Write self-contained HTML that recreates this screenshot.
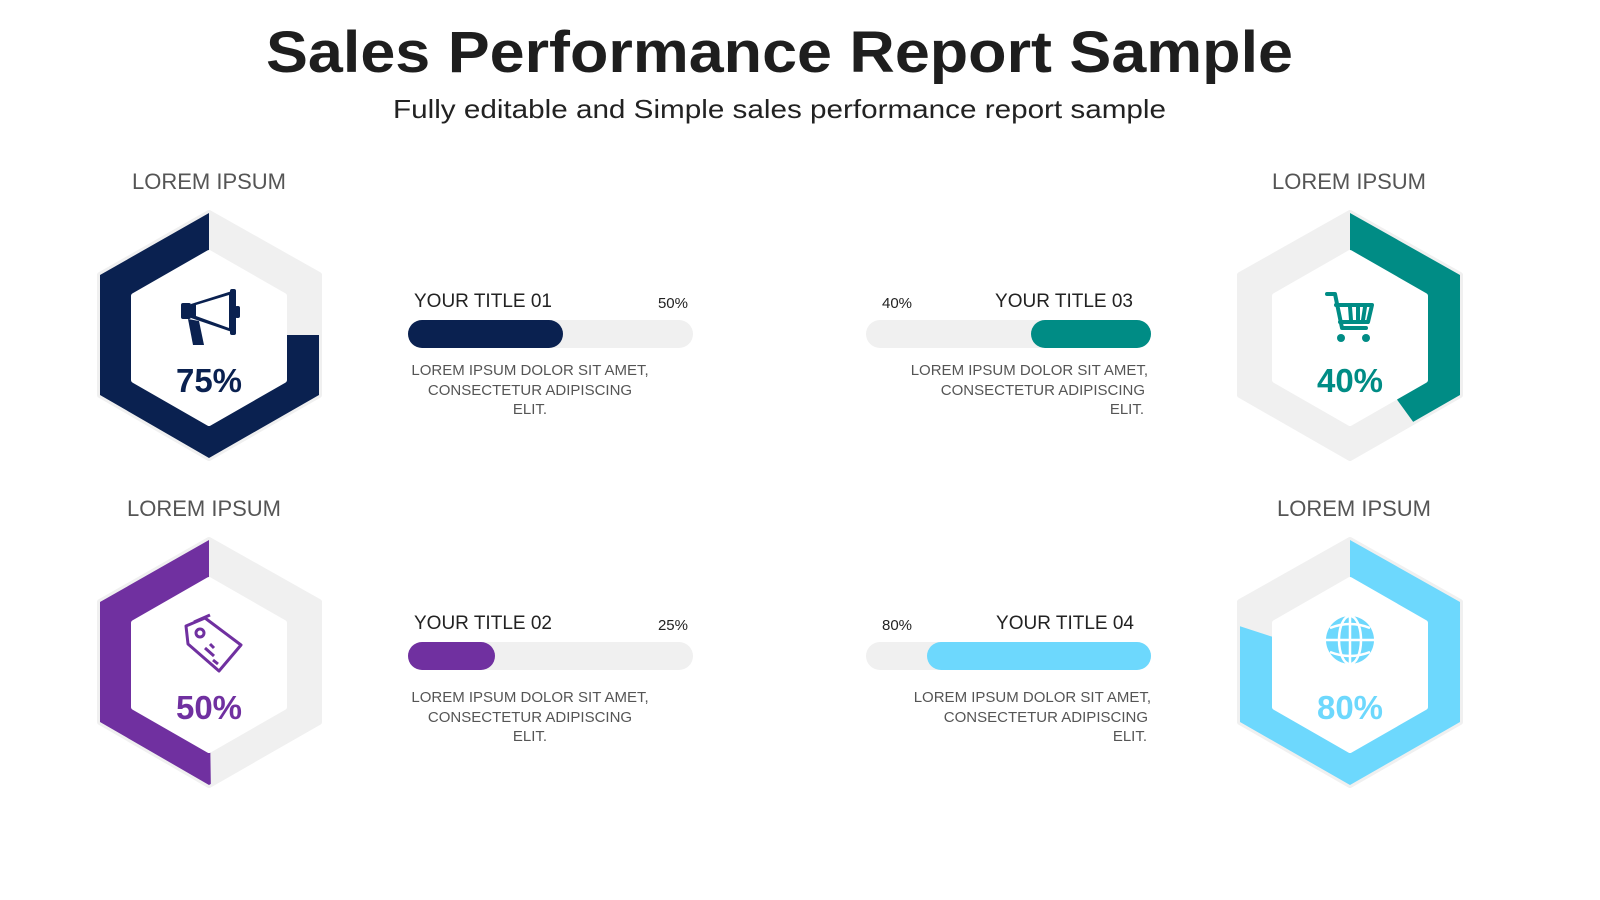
<!DOCTYPE html>
<html><head><meta charset="utf-8"><style>
html,body{margin:0;padding:0;background:#fff;width:1600px;height:900px;overflow:hidden;}
svg{display:block;}
svg text{font-family:"Liberation Sans",sans-serif;}
</style></head><body>
<svg width="1600" height="900" xmlns="http://www.w3.org/2000/svg">
<defs>
<clipPath id="c1"><polygon points="209,213 319,275 319,395 209,458 100,395 100,275"/></clipPath>
<clipPath id="c2"><polygon points="1350,213 1460,275 1460,395 1350,458 1240,395 1240,275"/></clipPath>
<clipPath id="c3"><polygon points="209,540 319,602 319,722 209,785 100,722 100,602"/></clipPath>
<clipPath id="c4"><polygon points="1350,540 1460,602 1460,722 1350,785 1240,722 1240,602"/></clipPath>
</defs>
<text x="266" y="72" textLength="1027" lengthAdjust="spacingAndGlyphs" font-size="58" font-weight="bold" fill="#1e1e1e">Sales Performance Report Sample</text>
<text x="393" y="118" textLength="773" lengthAdjust="spacingAndGlyphs" font-size="26" fill="#222">Fully editable and Simple sales performance report sample</text>

<g font-size="22" fill="#555" text-anchor="middle">
<text x="209" y="189">LOREM IPSUM</text>
<text x="1349" y="189">LOREM IPSUM</text>
<text x="204" y="516">LOREM IPSUM</text>
<text x="1354" y="516">LOREM IPSUM</text>
</g>

<g stroke-linejoin="round">
<polygon points="209,213 319,275 319,395 209,458 100,395 100,275" fill="#f0f0f0" stroke="#f0f0f0" stroke-width="6"/>
<path clip-path="url(#c1)" d="M209 335 L409 335 A200 200 0 1 1 209 135 Z" fill="#0a2150"/>
<polygon points="209,253 284,296 284,380 209,423 134,380 134,296" fill="#fff" stroke="#fff" stroke-width="6"/>

<polygon points="1350,213 1460,275 1460,395 1350,458 1240,395 1240,275" fill="#f0f0f0" stroke="#f0f0f0" stroke-width="6"/>
<path clip-path="url(#c2)" d="M1350 335 L1350 135 A200 200 0 0 1 1467.6 496.8 Z" fill="#008c85"/>
<polygon points="1350,253 1425,296 1425,380 1350,423 1275,380 1275,296" fill="#fff" stroke="#fff" stroke-width="6"/>

<polygon points="209,540 319,602 319,722 209,785 100,722 100,602" fill="#f0f0f0" stroke="#f0f0f0" stroke-width="6"/>
<path clip-path="url(#c3)" d="M209 662 L212 862 L209 862 A200 200 0 0 1 209 462 Z" fill="#7030a0"/>
<polygon points="209,580 284,623 284,707 209,750 134,707 134,623" fill="#fff" stroke="#fff" stroke-width="6"/>

<polygon points="1350,540 1460,602 1460,722 1350,785 1240,722 1240,602" fill="#f0f0f0" stroke="#f0f0f0" stroke-width="6"/>
<path clip-path="url(#c4)" d="M1350 662 L1350 462 A200 200 0 1 1 1159.8 600.2 Z" fill="#6dd8fd"/>
<polygon points="1350,580 1425,623 1425,707 1350,750 1275,707 1275,623" fill="#fff" stroke="#fff" stroke-width="6"/>
</g>

<g fill="#0a2150">
<rect x="181" y="303" width="10" height="16" rx="2"/>
<polygon points="191,304 232,291 232,332 191,318"/>
<polygon points="196,305 229,295 229,328 196,316" fill="#fff"/>
<rect x="230" y="289" width="6" height="46" rx="2"/>
<rect x="235" y="306" width="5" height="12" rx="2"/>
<polygon points="188,319 199,321 204,345 193,345"/>
</g>
<g fill="none" stroke="#008c85" stroke-width="4" stroke-linecap="round" stroke-linejoin="round">
<path d="M1327 294 L1335 294 L1342 328 L1366 328"/>
<path d="M1336 305 L1372 305 L1368 322 L1340 322"/>
<path d="M1350 307 L1351 320 M1358 307 L1358 320 M1365 307 L1363 320"/>
</g>
<circle cx="1341" cy="338" r="4" fill="#008c85"/><circle cx="1366" cy="338" r="4" fill="#008c85"/>
<g fill="none" stroke="#7030a0" stroke-width="3" stroke-linejoin="round">
<path d="M186 626 L205 618 L241 645 L219 671 L188 644 Z"/>
<path d="M194 622 L210 615"/>
<circle cx="200" cy="633" r="4"/>
<path d="M205 648 L214 656 M210 644 L214 648 M213 660 L218 664"/>
</g>
<g>
<circle cx="1350" cy="640" r="24" fill="#6dd8fd"/>
<g fill="none" stroke="#fff" stroke-width="2.5">
<ellipse cx="1350" cy="640" rx="11" ry="24"/>
<line x1="1350" y1="616" x2="1350" y2="664"/>
<line x1="1326" y1="640" x2="1374" y2="640"/>
<path d="M1330 628 Q1350 620 1370 628 M1330 652 Q1350 660 1370 652"/>
</g>
</g>

<g font-size="33" font-weight="bold" text-anchor="middle">
<text x="209" y="392" fill="#0a2150">75%</text>
<text x="1350" y="392" fill="#008c85">40%</text>
<text x="209" y="719" fill="#7030a0">50%</text>
<text x="1350" y="719" fill="#6dd8fd">80%</text>
</g>

<rect x="408" y="320" width="285" height="28" rx="14" fill="#f0f0f0"/>
<rect x="408" y="320" width="155" height="28" rx="14" fill="#0a2150"/>
<rect x="408" y="642" width="285" height="28" rx="14" fill="#f0f0f0"/>
<rect x="408" y="642" width="87" height="28" rx="14" fill="#7030a0"/>
<rect x="866" y="320" width="285" height="28" rx="14" fill="#f0f0f0"/>
<rect x="1031" y="320" width="120" height="28" rx="14" fill="#008c85"/>
<rect x="866" y="642" width="285" height="28" rx="14" fill="#f0f0f0"/>
<rect x="927" y="642" width="224" height="28" rx="14" fill="#6dd8fd"/>

<g font-size="19" fill="#222">
<text x="414" y="307">YOUR TITLE 01</text>
<text x="414" y="629">YOUR TITLE 02</text>
<text x="1133" y="307" text-anchor="end">YOUR TITLE 03</text>
<text x="1134" y="629" text-anchor="end">YOUR TITLE 04</text>
</g>
<g font-size="15" fill="#222">
<text x="688" y="308" text-anchor="end">50%</text>
<text x="688" y="630" text-anchor="end">25%</text>
<text x="882" y="308">40%</text>
<text x="882" y="630">80%</text>
</g>
<g font-size="15" fill="#555" text-anchor="middle">
<text x="530" y="375">LOREM IPSUM DOLOR SIT AMET,</text>
<text x="530" y="395">CONSECTETUR ADIPISCING</text>
<text x="530" y="414">ELIT.</text>
<text x="530" y="702">LOREM IPSUM DOLOR SIT AMET,</text>
<text x="530" y="722">CONSECTETUR ADIPISCING</text>
<text x="530" y="741">ELIT.</text>
</g>
<g font-size="15" fill="#555" text-anchor="end">
<text x="1148" y="375">LOREM IPSUM DOLOR SIT AMET,</text>
<text x="1145" y="395">CONSECTETUR ADIPISCING</text>
<text x="1144" y="414">ELIT.</text>
<text x="1151" y="702">LOREM IPSUM DOLOR SIT AMET,</text>
<text x="1148" y="722">CONSECTETUR ADIPISCING</text>
<text x="1147" y="741">ELIT.</text>
</g>
</svg>
</body></html>
